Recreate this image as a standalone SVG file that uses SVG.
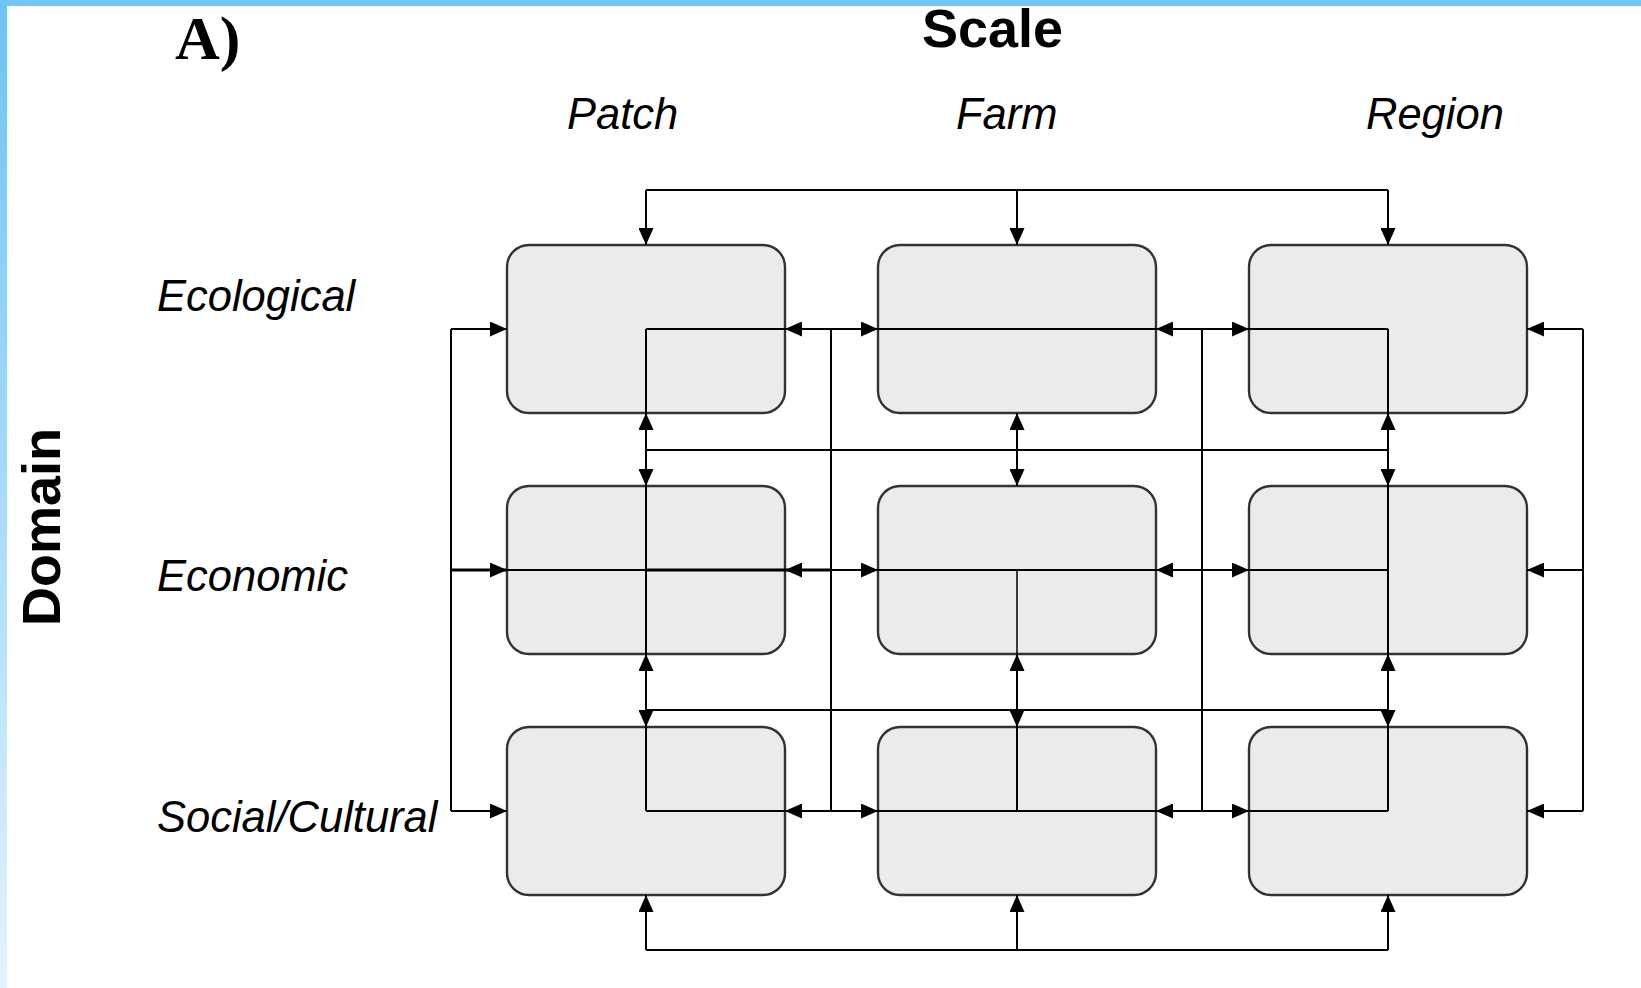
<svg xmlns="http://www.w3.org/2000/svg" width="1641" height="988" viewBox="0 0 1641 988">
  <defs>
    <linearGradient id="edge" x1="0" y1="0" x2="0" y2="1">
      <stop offset="0" stop-color="#6ec3f3"/>
      <stop offset="1" stop-color="#e4f2fc"/>
    </linearGradient>
    <marker id="arrow" viewBox="0 0 17 15" markerUnits="userSpaceOnUse" markerWidth="17" markerHeight="15" refX="17" refY="7.5" orient="auto">
      <path d="M0,0 L17,7.5 L0,15 z" fill="#000"/>
    </marker>
    <style>
      .box { fill: #ebebeb; stroke: #333; stroke-width: 2.4; }
      .wire { fill: none; stroke: #000; stroke-width: 2; }
      .thick { fill: none; stroke: #000; stroke-width: 3; }
      .thin { fill: none; stroke: #000; stroke-width: 1.5; }
      .tip { fill: none; stroke: #000; stroke-width: 2; marker-end: url(#arrow); }
      .head { font-family: "Liberation Sans", Arial, sans-serif; font-weight: bold; font-size: 54px; fill: #000; }
      .lab { font-family: "Liberation Sans", Arial, sans-serif; font-style: italic; font-size: 43.5px; fill: #000; }
      .tag { font-family: "Liberation Serif", "Times New Roman", serif; font-weight: bold; font-size: 62px; fill: #000; }
    </style>
  </defs>

  <rect x="0" y="0" width="1641" height="988" fill="#fff"/>
  <rect x="0" y="0" width="1641" height="6" fill="#72c5f4"/>
  <rect x="0" y="0" width="7" height="988" fill="url(#edge)"/>

  <!-- titles -->
  <text class="tag" x="175" y="59">A)</text>
  <text class="head" x="922" y="47">Scale</text>
  <text class="head" transform="translate(60,626) rotate(-90)" x="0" y="0">Domain</text>

  <!-- column headings -->
  <text class="lab" x="567" y="129">Patch</text>
  <text class="lab" x="956" y="129">Farm</text>
  <text class="lab" x="1366" y="129">Region</text>

  <!-- row headings -->
  <text class="lab" x="157" y="311">Ecological</text>
  <text class="lab" x="157" y="591">Economic</text>
  <text class="lab" x="157" y="832">Social/Cultural</text>

  <!-- nodes: 3 domains x 3 scales -->
  <g id="node-ecological-patch"><rect class="box" x="507" y="245" width="278" height="168" rx="22"/></g>
  <g id="node-ecological-farm"><rect class="box" x="878" y="245" width="278" height="168" rx="22"/></g>
  <g id="node-ecological-region"><rect class="box" x="1249" y="245" width="278" height="168" rx="22"/></g>
  <g id="node-economic-patch"><rect class="box" x="507" y="486" width="278" height="168" rx="22"/></g>
  <g id="node-economic-farm"><rect class="box" x="878" y="486" width="278" height="168" rx="22"/></g>
  <g id="node-economic-region"><rect class="box" x="1249" y="486" width="278" height="168" rx="22"/></g>
  <g id="node-social-patch"><rect class="box" x="507" y="727" width="278" height="168" rx="22"/></g>
  <g id="node-social-farm"><rect class="box" x="878" y="727" width="278" height="168" rx="22"/></g>
  <g id="node-social-region"><rect class="box" x="1249" y="727" width="278" height="168" rx="22"/></g>

  <g id="connectors">
    <!-- outer and middle vertical buses -->
    <path class="wire" d="M451,329 V811 M831,329 V811 M1202,329 V811 M1583,329 V811"/>
    <!-- top and bottom buses -->
    <path class="wire" d="M646,190 H1388 M646,950 H1388"/>
    <!-- between-row buses -->
    <path class="wire" d="M646,450 H1388 M646,710 H1388"/>
    <!-- row lines through the boxes -->
    <path class="wire" d="M646,329 H1388 M646,811 H1388 M451,570 H1388"/>
    <path class="thick" d="M451,570 H507 M646,570 H831"/>
    <!-- column lines -->
    <path class="wire" d="M646,329 V811 M1388,329 V811 M1017,413 V486 M1017,654 V811"/>
    <path class="thin" d="M1017,570 V654"/>

    <!-- arrows from top bus -->
    <path class="tip" d="M646,190 V245"/>
    <path class="tip" d="M1017,190 V245"/>
    <path class="tip" d="M1388,190 V245"/>
    <!-- arrows from bottom bus -->
    <path class="tip" d="M646,950 V895"/>
    <path class="tip" d="M1017,950 V895"/>
    <path class="tip" d="M1388,950 V895"/>

    <!-- arrows from bus at y=450 -->
    <path class="tip" d="M646,450 V413"/>
    <path class="tip" d="M646,450 V486"/>
    <path class="tip" d="M1017,450 V413"/>
    <path class="tip" d="M1017,450 V486"/>
    <path class="tip" d="M1388,450 V413"/>
    <path class="tip" d="M1388,450 V486"/>
    <!-- arrows from bus at y=710 -->
    <path class="tip" d="M646,710 V654"/>
    <path class="tip" d="M646,710 V727"/>
    <path class="tip" d="M1017,710 V654"/>
    <path class="tip" d="M1017,710 V727"/>
    <path class="tip" d="M1388,710 V654"/>
    <path class="tip" d="M1388,710 V727"/>

    <!-- horizontal arrows, each row -->
    <path class="tip" d="M451,329 H507"/>
    <path class="tip" d="M831,329 H785"/>
    <path class="tip" d="M831,329 H878"/>
    <path class="tip" d="M1202,329 H1156"/>
    <path class="tip" d="M1202,329 H1249"/>
    <path class="tip" d="M1583,329 H1527"/>

    <path class="tip" d="M451,570 H507"/>
    <path class="tip" d="M831,570 H785"/>
    <path class="tip" d="M831,570 H878"/>
    <path class="tip" d="M1202,570 H1156"/>
    <path class="tip" d="M1202,570 H1249"/>
    <path class="tip" d="M1583,570 H1527"/>

    <path class="tip" d="M451,811 H507"/>
    <path class="tip" d="M831,811 H785"/>
    <path class="tip" d="M831,811 H878"/>
    <path class="tip" d="M1202,811 H1156"/>
    <path class="tip" d="M1202,811 H1249"/>
    <path class="tip" d="M1583,811 H1527"/>
  </g>
</svg>
